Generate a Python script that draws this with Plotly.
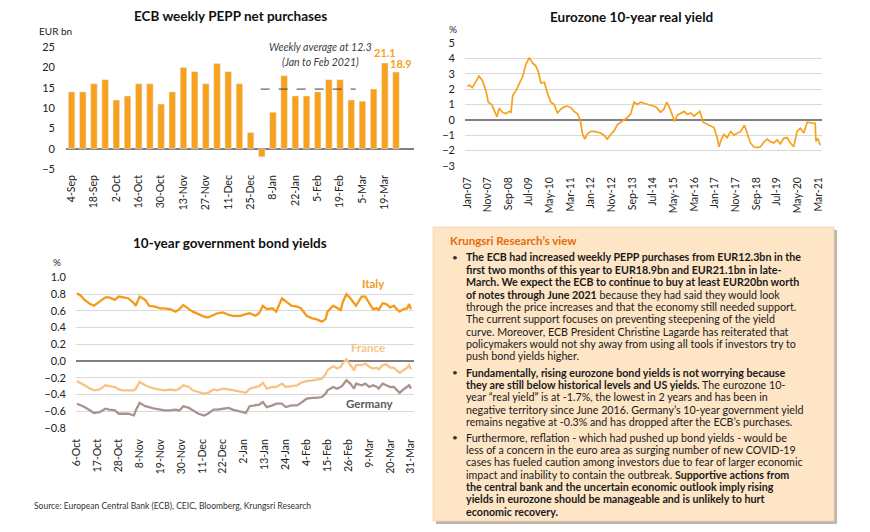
import plotly.graph_objects as go

W, H = 870, 532
FONT = "Lato"

# ---------------- Panel 1 data: ECB weekly PEPP net purchases (EUR bn)
pepp_weeks = ["4-Sep", "11-Sep", "18-Sep", "25-Sep", "2-Oct", "9-Oct", "16-Oct", "23-Oct",
              "30-Oct", "6-Nov", "13-Nov", "20-Nov", "27-Nov", "4-Dec", "11-Dec", "18-Dec",
              "25-Dec", "1-Jan", "8-Jan", "15-Jan", "22-Jan", "29-Jan", "5-Feb", "12-Feb",
              "19-Feb", "26-Feb", "5-Mar", "12-Mar", "19-Mar", "26-Mar"]
pepp_values = [14, 14, 16, 17, 12, 13, 16, 16, 11, 14, 20, 19, 16, 21, 19, 16,
               4, -2, 9, 18, 13, 13, 14, 17, 17, 12, 11.7, 14.7, 21.1, 18.9]
pepp_ticks = pepp_weeks[::2]
avg_line_level = 14.7

# ---------------- Panel 2 data: Eurozone 10-year real yield (%)
ry_dates = ["2007-01-05", "2007-02-05", "2007-03-20", "2007-05-10", "2007-06-25", "2007-08-15",
            "2007-10-05", "2007-11-10", "2007-12-28", "2008-02-06", "2008-03-15", "2008-04-18",
            "2008-06-06", "2008-07-25", "2008-09-12", "2008-10-10", "2008-11-03", "2008-12-21",
            "2009-02-24", "2009-03-28", "2009-05-16", "2009-07-04", "2009-08-22", "2009-10-10",
            "2009-11-18", "2009-12-22", "2010-02-12", "2010-04-01", "2010-05-19", "2010-07-07",
            "2010-08-25", "2010-10-13", "2010-12-01", "2011-01-19", "2011-03-07", "2011-04-27",
            "2011-06-15", "2011-07-22", "2011-08-28", "2011-10-01", "2011-11-10", "2011-12-28",
            "2012-02-15", "2012-04-04", "2012-05-22", "2012-07-10", "2012-08-28", "2012-10-16",
            "2012-12-06", "2013-01-24", "2013-03-13", "2013-05-01", "2013-06-19", "2013-08-07",
            "2013-09-25", "2013-11-13", "2014-01-03", "2014-03-15", "2014-05-28", "2014-08-10",
            "2014-10-22", "2014-12-10", "2015-01-18", "2015-02-21", "2015-04-12", "2015-05-15",
            "2015-06-24", "2015-08-12", "2015-10-01", "2015-11-19", "2016-01-07", "2016-02-25",
            "2016-04-13", "2016-05-22", "2016-07-10", "2016-09-09", "2016-10-28", "2016-12-16",
            "2017-01-25", "2017-02-28", "2017-04-01", "2017-05-10", "2017-06-28", "2017-08-18",
            "2017-10-06", "2017-11-24", "2018-01-12", "2018-03-10", "2018-04-18", "2018-06-06",
            "2018-07-24", "2018-09-12", "2018-11-01", "2018-12-19", "2019-02-06", "2019-03-25",
            "2019-05-15", "2019-07-03", "2019-08-21", "2019-10-09", "2019-11-27", "2020-01-15",
            "2020-03-04", "2020-04-22", "2020-06-10", "2020-07-31", "2020-09-18", "2020-11-06",
            "2020-12-24", "2021-01-15", "2021-01-25", "2021-02-20", "2021-03-31"]
ry_values = [2.2, 2.25, 2.1, 2.5, 2.85, 2.55,
             1.9, 1.15, 1.0, 0.6, 0.2, 0.75,
             0.5, 0.4, 0.55, 0.5, 1.6, 1.9,
             2.5, 2.8, 3.6, 4.05, 3.7, 3.5,
             3.1, 2.4, 2.45, 1.7, 1.15, 1.0,
             0.45, 0.7, 0.85, 0.9, 0.8, 0.55,
             0.4, 0.05, -0.9, -1.25, -0.9, -0.75,
             -0.75, -0.8, -0.85, -1.0, -1.25, -0.95,
             -0.7, -0.3, -0.15, -0.05, 0.15, 0.4,
             1.15, 1.0, 1.15, 1.05, 0.95, 0.85,
             0.5, 0.7, 1.15, 0.9, 0.3, -0.1,
             0.3, 0.4, 0.55, 0.35, 0.45, 0.25,
             0.4, 0.55, -0.15, -0.3, -0.4, -0.5,
             -1.05, -1.75, -1.3, -0.95, -1.15, -0.75,
             -1.0, -0.85, -0.75, -0.35, -0.8, -1.5,
             -1.75, -1.8, -1.75, -1.45, -1.25, -1.4,
             -1.5, -1.3, -1.55, -1.2, -1.15, -1.5,
             -1.75, -0.75, -0.55, -0.85, -0.15, -0.2,
             -0.22, -0.22, -1.4, -1.2, -1.65]
ry_tick_dates = ["2007-01-01", "2007-11-01", "2008-09-01", "2009-07-01", "2010-05-01", "2011-03-01",
                 "2012-01-01", "2012-11-01", "2013-09-01", "2014-07-01", "2015-05-01", "2016-03-01",
                 "2017-01-01", "2017-11-01", "2018-09-01", "2019-07-01", "2020-05-01", "2021-03-01"]
ry_tick_labels = ["Jan-07", "Nov-07", "Sep-08", "Jul-09", "May-10", "Mar-11", "Jan-12", "Nov-12",
                  "Sep-13", "Jul-14", "May-15", "Mar-16", "Jan-17", "Nov-17", "Sep-18", "Jul-19",
                  "May-20", "Mar-21"]

# ---------------- Panel 3 data: 10-year government bond yields (%)
bond_dates = ["2020-10-06", "2020-10-08", "2020-10-10", "2020-10-13", "2020-10-15", "2020-10-18",
              "2020-10-21", "2020-10-23", "2020-10-26", "2020-10-28", "2020-10-30", "2020-11-02",
              "2020-11-05", "2020-11-06", "2020-11-08", "2020-11-11", "2020-11-13", "2020-11-16",
              "2020-11-19", "2020-11-21", "2020-11-24", "2020-11-27", "2020-11-29", "2020-12-01",
              "2020-12-04", "2020-12-06", "2020-12-09", "2020-12-12", "2020-12-14", "2020-12-17",
              "2020-12-19", "2020-12-22", "2020-12-25", "2020-12-27", "2020-12-31", "2021-01-03",
              "2021-01-05", "2021-01-08", "2021-01-10", "2021-01-12", "2021-01-14", "2021-01-17",
              "2021-01-19", "2021-01-22", "2021-01-24", "2021-01-27", "2021-01-30", "2021-02-01",
              "2021-02-04", "2021-02-07", "2021-02-09", "2021-02-12", "2021-02-14", "2021-02-15",
              "2021-02-18", "2021-02-20", "2021-02-22", "2021-02-23", "2021-02-25", "2021-02-27",
              "2021-03-01", "2021-03-02", "2021-03-05", "2021-03-07", "2021-03-09", "2021-03-11",
              "2021-03-13", "2021-03-14", "2021-03-16", "2021-03-18", "2021-03-20", "2021-03-22",
              "2021-03-23", "2021-03-25", "2021-03-27", "2021-03-29", "2021-03-30", "2021-03-31"]
italy = [0.81, 0.78, 0.73, 0.68, 0.66, 0.71,
         0.76, 0.76, 0.73, 0.77, 0.76, 0.75,
         0.69, 0.66, 0.77, 0.73, 0.66, 0.65,
         0.63, 0.63, 0.62, 0.59, 0.62, 0.67,
         0.62, 0.59, 0.56, 0.53, 0.52, 0.55,
         0.57, 0.58, 0.55, 0.54, 0.54, 0.56,
         0.57, 0.54, 0.57, 0.66, 0.62, 0.63,
         0.59, 0.75, 0.71, 0.66, 0.65, 0.63,
         0.54, 0.51, 0.50, 0.47, 0.50, 0.59,
         0.66, 0.63, 0.61, 0.70, 0.80, 0.75,
         0.69, 0.66, 0.77, 0.77, 0.69, 0.62,
         0.63, 0.61, 0.69, 0.68, 0.64, 0.66,
         0.63, 0.59, 0.62, 0.63, 0.68, 0.62]
france = [-0.24, -0.27, -0.29, -0.33, -0.35, -0.34,
          -0.29, -0.30, -0.31, -0.34, -0.35, -0.35,
          -0.35, -0.33, -0.25, -0.29, -0.31, -0.33,
          -0.34, -0.35, -0.34, -0.35, -0.33, -0.29,
          -0.31, -0.35, -0.37, -0.39, -0.38, -0.34,
          -0.35, -0.33, -0.34, -0.35, -0.37, -0.38,
          -0.33, -0.31, -0.30, -0.26, -0.33, -0.31,
          -0.31, -0.27, -0.31, -0.30, -0.29, -0.26,
          -0.24, -0.23, -0.22, -0.21, -0.16, -0.11,
          -0.06, -0.09, -0.07, -0.03, 0.02, -0.04,
          -0.11, -0.05, -0.05, -0.03, -0.07, -0.09,
          -0.08, -0.10, -0.05, -0.04, -0.08, -0.08,
          -0.10, -0.14, -0.11, -0.08, -0.05, -0.10]
germany = [-0.51, -0.53, -0.55, -0.59, -0.62, -0.61,
           -0.57, -0.58, -0.59, -0.63, -0.63, -0.63,
           -0.65, -0.59, -0.50, -0.54, -0.55, -0.57,
           -0.58, -0.59, -0.59, -0.58, -0.59, -0.54,
           -0.56, -0.59, -0.63, -0.65, -0.63, -0.58,
           -0.58, -0.57, -0.56, -0.58, -0.60, -0.62,
           -0.54, -0.53, -0.52, -0.49, -0.55, -0.53,
           -0.51, -0.51, -0.55, -0.53, -0.53, -0.50,
           -0.45, -0.44, -0.44, -0.43, -0.39, -0.35,
           -0.31, -0.33, -0.31, -0.29, -0.23, -0.27,
           -0.33, -0.27, -0.29, -0.27, -0.31, -0.29,
           -0.31, -0.33, -0.27, -0.29, -0.31, -0.31,
           -0.33, -0.38, -0.34, -0.31, -0.29, -0.33]
bond_tick_dates = ["2020-10-06", "2020-10-17", "2020-10-28", "2020-11-08", "2020-11-19", "2020-11-30",
                   "2020-12-11", "2020-12-22", "2021-01-02", "2021-01-13", "2021-01-24", "2021-02-04",
                   "2021-02-15", "2021-02-26", "2021-03-09", "2021-03-20", "2021-03-31"]
bond_tick_labels = ["6-Oct", "17-Oct", "28-Oct", "8-Nov", "19-Nov", "30-Nov", "11-Dec", "22-Dec",
                    "2-Jan", "13-Jan", "24-Jan", "4-Feb", "15-Feb", "26-Feb", "9-Mar", "20-Mar",
                    "31-Mar"]

# ---------------- Text panel
view_title = "Krungsri Research’s view"
para1 = [
    "<b>The ECB had increased weekly PEPP purchases from EUR12.3bn in the</b>",
    "<b>first two months of this year to EUR18.9bn and EUR21.1bn in late-</b>",
    "<b>March. We expect the ECB to continue to buy at least EUR20bn worth</b>",
    "<b>of notes through June 2021</b> because they had said they would look",
    "through the price increases and that the economy still needed support.",
    "The current support focuses on preventing steepening of the yield",
    "curve. Moreover, ECB President Christine Lagarde has reiterated that",
    "policymakers would not shy away from using all tools if investors try to",
    "push bond yields higher.",
]
para2 = [
    "<b>Fundamentally, rising eurozone bond yields is not worrying because</b>",
    "<b>they are still below historical levels and US yields.</b> The eurozone 10-",
    "year “real yield” is at -1.7%, the lowest in 2 years and has been in",
    "negative territory since June 2016. Germany’s 10-year government yield",
    "remains negative at -0.3% and has dropped after the ECB’s purchases.",
]
para3 = [
    "Furthermore, reflation - which had pushed up bond yields - would be",
    "less of a concern in the euro area as surging number of new COVID-19",
    "cases has fueled caution among investors due to fear of larger economic",
    "impact and inability to contain the outbreak. <b>Supportive actions from</b>",
    "<b>the central bank and the uncertain economic outlook imply rising</b>",
    "<b>yields in eurozone should be manageable and is unlikely to hurt</b>",
    "<b>economic recovery.</b>",
]
source_text = "Source: European Central Bank (ECB), CEIC, Bloomberg, Krungsri Research"

# ---------------- Styling
ORANGE = "#F7A11C"
ITALY_C = "#F59A1A"
FRANCE_C = "#F9C283"
GERMANY_C = "#A6958F"
GRID = "#D9D9D9"
ZERO = "#808080"
TXT = "#222222"


def px(x):
    return x / W


def py(y):
    return 1 - y / H


fig = go.Figure()

fig.add_trace(go.Bar(x=pepp_weeks, y=pepp_values, marker_color=ORANGE, width=0.58,
                     xaxis="x", yaxis="y", hoverinfo="x+y"))
fig.add_trace(go.Scatter(x=ry_dates, y=ry_values, mode="lines",
                         line=dict(color=ORANGE, width=1.7), xaxis="x2", yaxis="y2"))
fig.add_trace(go.Scatter(x=bond_dates, y=italy, mode="lines", name="Italy",
                         line=dict(color=ITALY_C, width=2.3), xaxis="x3", yaxis="y3"))
fig.add_trace(go.Scatter(x=bond_dates, y=france, mode="lines", name="France",
                         line=dict(color=FRANCE_C, width=2.3), xaxis="x3", yaxis="y3"))
fig.add_trace(go.Scatter(x=bond_dates, y=germany, mode="lines", name="Germany",
                         line=dict(color=GERMANY_C, width=2.3), xaxis="x3", yaxis="y3"))

tickfont = dict(family=FONT, size=11, color=TXT)
xtickfont = dict(family=FONT, size=10.5, color=TXT)

fig.update_layout(
    width=W, height=H, margin=dict(l=0, r=0, t=0, b=0, pad=0, autoexpand=False),
    paper_bgcolor="white", plot_bgcolor="white", showlegend=False,
    font=dict(family=FONT, color=TXT),
    bargap=0.4,
    xaxis=dict(domain=[px(66), px(414)], anchor="y", type="category",
               tickmode="array", tickvals=pepp_ticks, ticktext=pepp_ticks,
               tickangle=-90, tickfont=xtickfont, showgrid=False, showline=False,
               ticks="", ticklabelstandoff=3, automargin=False),
    yaxis=dict(domain=[py(169), py(47.3)], anchor="x", range=[-5, 25], dtick=5,
               showgrid=False, zeroline=True, zerolinecolor=ZERO, zerolinewidth=1.5,
               tickfont=tickfont, ticks="", ticklabelstandoff=10, showline=False,
               automargin=False),
    xaxis2=dict(domain=[px(465), px(822)], anchor="y2", type="date",
                range=["2006-12-01", "2021-04-25"], tickmode="array",
                tickvals=ry_tick_dates, ticktext=ry_tick_labels, tickangle=-90,
                tickfont=xtickfont, showgrid=False, ticks="", ticklabelstandoff=8,
                automargin=False),
    yaxis2=dict(domain=[py(166), py(43)], anchor="x2", range=[-3, 5], dtick=1,
                showgrid=True, gridcolor=GRID, gridwidth=1, zeroline=True,
                zerolinecolor=ZERO, zerolinewidth=2, tickfont=tickfont, ticks="",
                ticklabelstandoff=9, automargin=False),
    xaxis3=dict(domain=[px(76), px(414)], anchor="y3", type="date",
                range=["2020-10-05 12:00", "2021-04-01 14:00"], tickmode="array",
                tickvals=bond_tick_dates, ticktext=bond_tick_labels, tickangle=-90,
                tickfont=xtickfont, showgrid=False, ticks="", ticklabelstandoff=8,
                automargin=False),
    yaxis3=dict(domain=[py(428), py(277.3)], anchor="x3", range=[-0.8, 1.0], dtick=0.2,
                tickformat=".1f", showgrid=True, gridcolor=GRID, gridwidth=1,
                zeroline=True, zerolinecolor=ZERO, zerolinewidth=1.5,
                tickfont=tickfont, ticks="", ticklabelstandoff=9, automargin=False),
)

shapes = []
# dashed average line on bar chart
shapes.append(dict(type="line", xref="x", yref="y", x0=16.9, x1=25.4,
                   y0=avg_line_level, y1=avg_line_level,
                   line=dict(color="#404040", width=1, dash="dash")))
# text box shadow + box
shapes.append(dict(type="rect", xref="paper", yref="paper", x0=px(436), x1=px(837),
                   y0=py(524), y1=py(230), fillcolor="#BDB6AE", line=dict(width=0),
                   layer="below"))
shapes.append(dict(type="rect", xref="paper", yref="paper", x0=px(433), x1=px(834),
                   y0=py(521), y1=py(227), fillcolor="#FDE5C6",
                   line=dict(color="#F3D3AC", width=0.8), layer="below"))
fig.update_layout(shapes=shapes)

ann = []


def add_text(text, x, y, size=10, color=TXT, xanchor="left", bold=False, italic=False,
             family=FONT):
    if bold:
        text = "<b>" + text + "</b>"
    if italic:
        text = "<i>" + text + "</i>"
    ann.append(dict(text=text, x=px(x), y=py(y), xref="paper", yref="paper",
                    xanchor=xanchor, yanchor="middle", showarrow=False,
                    font=dict(family=family, size=size, color=color)))


# titles
add_text("ECB weekly PEPP net purchases", 231, 16, size=13.5, color="#111", xanchor="center", bold=True)
add_text("Eurozone 10-year real yield", 631, 17, size=13.5, color="#111", xanchor="center", bold=True)
add_text("10-year government bond yields", 230, 243, size=13.5, color="#111", xanchor="center", bold=True)
add_text("EUR bn", 37, 31, size=10)
add_text("%", 447, 29, size=10)
add_text("%", 51, 262, size=10)

# bar chart annotations
add_text("Weekly average at 12.3", 320, 47, size=10.5, color="#404040", xanchor="center", italic=True)
add_text("(Jan to Feb 2021)", 320, 62, size=10.5, color="#404040", xanchor="center", italic=True)
ann.append(dict(text="<b>21.1</b>", x=pepp_weeks[28], y=pepp_values[28], xref="x", yref="y",
                yanchor="bottom", showarrow=False, yshift=2,
                font=dict(family=FONT, size=11, color=ORANGE)))
ann.append(dict(text="<b>18.9</b>", x=pepp_weeks[29], y=pepp_values[29], xref="x", yref="y",
                yanchor="bottom", showarrow=False, yshift=0, xshift=5,
                font=dict(family=FONT, size=11, color=ORANGE)))

# bond series labels
add_text("Italy", 373, 283, size=11.5, color=ITALY_C, xanchor="center", bold=True)
add_text("France", 368, 347, size=11.5, color=FRANCE_C, xanchor="center", bold=True)
add_text("Germany", 370, 403, size=11.5, color="#595959", xanchor="center", bold=True)

# source
add_text(source_text, 32, 506, size=8.5, color="#333")

# text panel
add_text(view_title, 448, 240, size=11.5, color="#E46C0A", bold=True)
step = 12.35
for para, y0 in ((para1, 257), (para2, 372), (para3, 437)):
    add_text("•", 450, y0, size=10, color="#333")
    for i, line in enumerate(para):
        add_text(line, 464, y0 + i * step, size=10.7, color="#1a1a1a")

fig.update_layout(annotations=ann)

fig.write_html("out.html",
               config={"displayModeBar": False},
               post_script="document.body.style.margin='0';document.body.style.padding='0';"
                           "document.body.style.overflow='hidden';")
